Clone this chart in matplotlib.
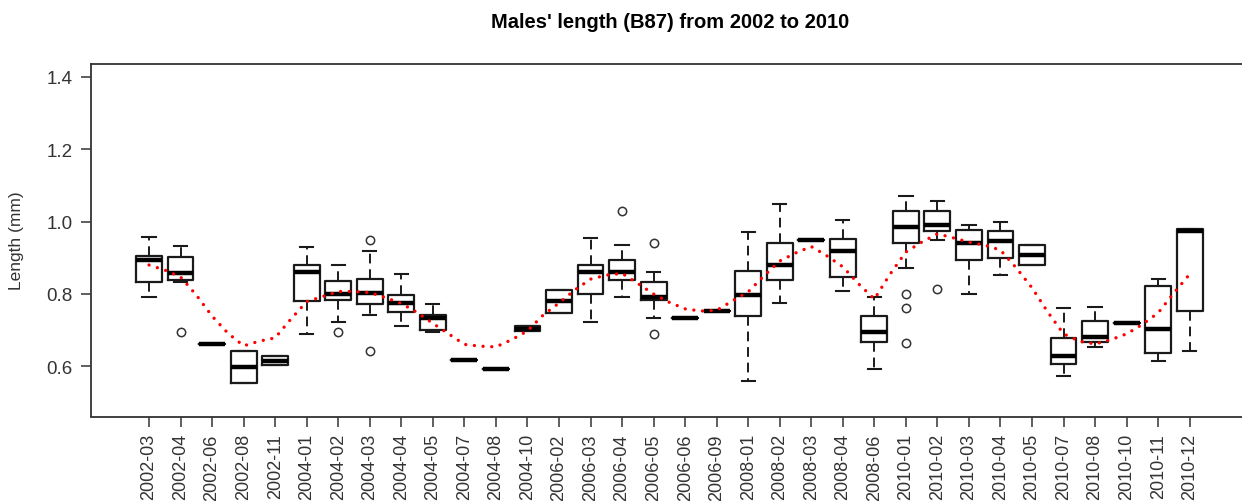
import matplotlib
matplotlib.use("Agg")
import matplotlib.pyplot as plt
import numpy as np

plt.rcParams['font.family'] = ['Liberation Sans', 'DejaVu Sans']

# Sampling months
months = ["2002-03", "2002-04", "2002-06", "2002-08", "2002-11",
          "2004-01", "2004-02", "2004-03", "2004-04", "2004-05",
          "2004-07", "2004-08", "2004-10", "2006-02", "2006-03",
          "2006-04", "2006-05", "2006-06", "2006-09", "2008-01",
          "2008-02", "2008-03", "2008-04", "2008-06", "2010-01",
          "2010-02", "2010-03", "2010-04", "2010-05", "2010-07",
          "2010-08", "2010-10", "2010-11", "2010-12"]

# Box statistics per month (mm)
whisker_low = [0.791, 0.834, 0.663, 0.555, 0.604, 0.689, 0.722, 0.743, 0.713, 0.694,
               0.618, 0.594, 0.697, 0.748, 0.722, 0.791, 0.734, 0.734, 0.752, 0.559,
               0.774, 0.950, 0.808, 0.593, 0.871, 0.950, 0.800, 0.853, 0.879, 0.575,
               0.655, 0.721, 0.614, 0.642]
q1 = [0.832, 0.840, 0.663, 0.555, 0.604, 0.780, 0.783, 0.773, 0.749, 0.702,
      0.618, 0.594, 0.697, 0.748, 0.800, 0.840, 0.783, 0.734, 0.752, 0.739,
      0.840, 0.950, 0.846, 0.668, 0.942, 0.973, 0.893, 0.900, 0.879, 0.608,
      0.668, 0.721, 0.638, 0.752]
median = [0.895, 0.857, 0.663, 0.599, 0.616, 0.860, 0.800, 0.802, 0.774, 0.735,
          0.618, 0.594, 0.703, 0.781, 0.862, 0.862, 0.791, 0.734, 0.752, 0.798,
          0.881, 0.950, 0.919, 0.696, 0.984, 0.991, 0.942, 0.945, 0.907, 0.630,
          0.682, 0.721, 0.704, 0.973]
q3 = [0.906, 0.901, 0.663, 0.642, 0.630, 0.880, 0.835, 0.841, 0.798, 0.743,
      0.618, 0.594, 0.711, 0.811, 0.881, 0.893, 0.832, 0.734, 0.752, 0.863,
      0.942, 0.950, 0.953, 0.740, 1.030, 1.030, 0.976, 0.973, 0.934, 0.678,
      0.725, 0.721, 0.822, 0.980]
whisker_high = [0.956, 0.932, 0.663, 0.642, 0.630, 0.929, 0.879, 0.920, 0.856, 0.773,
                0.618, 0.594, 0.711, 0.811, 0.955, 0.934, 0.862, 0.734, 0.752, 0.971,
                1.048, 0.950, 1.005, 0.791, 1.070, 1.057, 0.990, 0.998, 0.934, 0.761,
                0.763, 0.721, 0.841, 0.980]
outliers = {
    "2002-04": [0.694],
    "2004-02": [0.694],
    "2004-03": [0.950, 0.642],
    "2006-04": [1.030],
    "2006-05": [0.942, 0.689],
    "2010-01": [0.800, 0.762, 0.664],
    "2010-02": [0.814],
}

# Smoothed trend (month index position, length)
trend_pos = [1.0, 1.5, 2.0, 2.5, 3.0, 3.5, 4.0, 4.5, 5.0, 5.5, 6.0, 6.5, 7.0, 7.5,
             8.0, 8.5, 9.0, 9.5, 10.0, 10.5, 11.0, 11.5, 12.0, 12.5, 13.0, 13.5,
             14.0, 14.5, 15.0, 15.5, 16.0, 16.5, 17.0, 17.5, 18.0, 18.5, 19.0,
             19.5, 20.0, 20.5, 21.0, 21.5, 22.0, 22.5, 23.0, 23.5, 24.0, 24.5,
             25.0, 25.5, 26.0, 26.5, 27.0, 27.5, 28.0, 28.5, 29.0, 29.5, 30.0,
             30.5, 31.0, 31.5, 32.0, 32.5, 33.0, 33.5, 34.0]
trend_len = [0.880, 0.866, 0.847, 0.797, 0.739, 0.692, 0.657, 0.670, 0.679, 0.731,
             0.779, 0.793, 0.807, 0.807, 0.804, 0.790, 0.774, 0.749, 0.719, 0.690,
             0.661, 0.656, 0.654, 0.674, 0.698, 0.742, 0.775, 0.811, 0.841, 0.852,
             0.857, 0.829, 0.800, 0.777, 0.759, 0.753, 0.755, 0.781, 0.806, 0.850,
             0.891, 0.913, 0.931, 0.905, 0.875, 0.828, 0.786, 0.855, 0.916, 0.943,
             0.966, 0.955, 0.943, 0.935, 0.921, 0.872, 0.817, 0.750, 0.690, 0.670,
             0.662, 0.674, 0.690, 0.716, 0.748, 0.803, 0.855]

y_ticks = [0.6, 0.8, 1.0, 1.2, 1.4]
y_tick_labels = ["0.6", "0.8", "1.0", "1.2", "1.4"]

W, H = 1242, 502
fig = plt.figure(figsize=(W / 100, H / 100), dpi=100)
ax = fig.add_axes([91 / W, (H - 417.5) / H, (1249 - 91) / W, (417.5 - 65) / H])

stats = []
for i, m in enumerate(months):
    stats.append(dict(label=m, med=median[i], q1=q1[i], q3=q3[i],
                      whislo=whisker_low[i], whishi=whisker_high[i],
                      fliers=outliers.get(m, [])))

positions = np.arange(1, len(months) + 1)
ax.bxp(stats, positions=positions, widths=0.82, showfliers=True,
       boxprops=dict(color="#1a1a1a", linewidth=1.6),
       medianprops=dict(color="black", linewidth=3.2, solid_capstyle="butt"),
       whiskerprops=dict(color="#1a1a1a", linewidth=1.4, linestyle=(0, (5, 3))),
       capprops=dict(color="#1a1a1a", linewidth=1.5),
       capwidths=0.42,
       flierprops=dict(marker="o", markersize=6, markerfacecolor="none",
                       markeredgecolor="#333333", markeredgewidth=1.1))

ax.plot(trend_pos, trend_len, color="red", linewidth=2.4,
        linestyle=(0, (0.01, 2.6)), dash_capstyle="round", zorder=5)

ax.set_xlim(-0.84, 35.88)
ax.set_ylim(0.462, 1.4346)

ax.set_yticks(y_ticks)
ax.set_yticklabels(y_tick_labels, fontsize=13.5, color="#333333")
ax.set_xticks(positions)
ax.set_xticklabels(months, rotation=90, fontsize=13, color="#333333")
ax.tick_params(axis="both", length=7, width=1.1, color="#333333", pad=6)
ax.tick_params(axis="x", pad=5)

ax.spines["right"].set_visible(False)
for s in ("left", "top", "bottom"):
    ax.spines[s].set_linewidth(1.3)
    ax.spines[s].set_color("#333333")

fig.text(670 / W, (H - 22) / H, "Males' length (B87) from 2002 to 2010",
         ha="center", va="center", fontsize=14.5, fontweight="bold")
fig.text(17 / W, (H - 241) / H, "Length (mm)", rotation=90,
         ha="center", va="center", fontsize=12.5, color="#333333")

fig.savefig("out.png", dpi=100)
